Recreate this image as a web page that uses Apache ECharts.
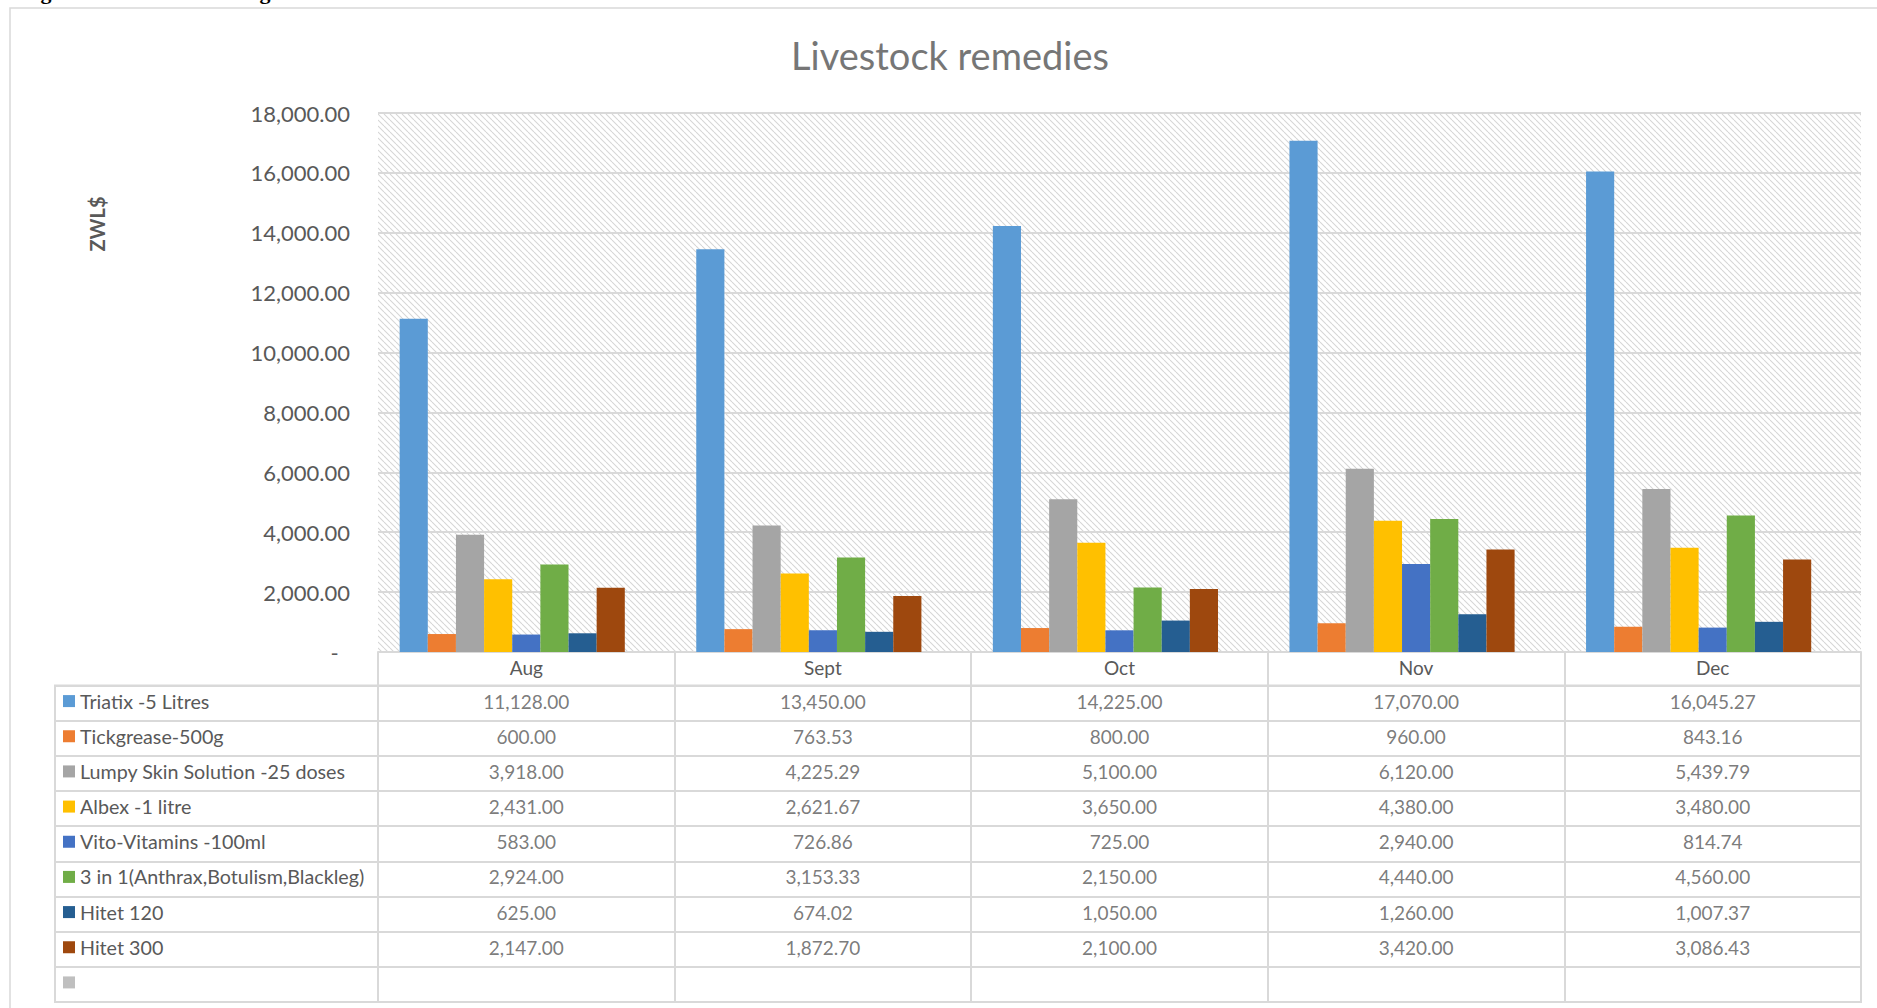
<!DOCTYPE html>
<html><head><meta charset="utf-8">
<script src="https://cdn.jsdelivr.net/npm/echarts/dist/echarts.min.js"></script>
<style>html,body{margin:0;padding:0;background:#fff;overflow:hidden}#c{width:1877px;height:1008px}</style>
</head><body><div id="c"></div>
<script>
// ---- data ----
const months = ['Aug', 'Sept', 'Oct', 'Nov', 'Dec'];
const seriesNames = ['Triatix -5 Litres', 'Tickgrease-500g', 'Lumpy Skin Solution -25 doses', 'Albex -1 litre',
  'Vito-Vitamins -100ml', '3 in 1(Anthrax,Botulism,Blackleg)', 'Hitet 120', 'Hitet 300', ''];
const triatix = [11128.00, 13450.00, 14225.00, 17070.00, 16045.27];
const tickgrease = [600.00, 763.53, 800.00, 960.00, 843.16];
const lumpySkin = [3918.00, 4225.29, 5100.00, 6120.00, 5439.79];
const albex = [2431.00, 2621.67, 3650.00, 4380.00, 3480.00];
const vitoVitamins = [583.00, 726.86, 725.00, 2940.00, 814.74];
const threeInOne = [2924.00, 3153.33, 2150.00, 4440.00, 4560.00];
const hitet120 = [625.00, 674.02, 1050.00, 1260.00, 1007.37];
const hitet300 = [2147.00, 1872.70, 2100.00, 3420.00, 3086.43];
const blankSeries = [null, null, null, null, null];
const yAxisMax = 18000;
const yAxisStep = 2000;

const seriesValues = [triatix, tickgrease, lumpySkin, albex, vitoVitamins, threeInOne, hitet120, hitet300, blankSeries];
const colors = ['#5B9BD5', '#ED7D31', '#A5A5A5', '#FFC000', '#4472C4', '#70AD47', '#255E91', '#9E480E', '#BFBFBF'];

const FONT = 'Lato';
const TXT = '#595959';
const LINE = '#d9d9d9';

function fmt(v) {
  return v.toLocaleString('en-US', {minimumFractionDigits: 2, maximumFractionDigits: 2});
}

// hatch pattern
const tile = document.createElement('canvas');
const S = 6;
tile.width = S; tile.height = S;
const g = tile.getContext('2d');
g.fillStyle = '#ffffff'; g.fillRect(0, 0, S, S);
g.strokeStyle = '#d6d6d6'; g.lineWidth = 1.1;
for (let k = -1; k <= 1; k++) { g.beginPath(); g.moveTo(k * S, 0); g.lineTo(k * S + S, S); g.stroke(); }
const hatch = {image: tile.toDataURL(), repeat: 'repeat'};

const chart = echarts.init(document.getElementById('c'), null, {renderer: 'svg'});

const rich = {};
colors.forEach((c, i) => { rich['s' + i] = {width: 12, height: 12, backgroundColor: c}; });
rich.t = {fontSize: 19.7, fontFamily: FONT, color: TXT, padding: [0, 0, 0, 5]};

const series = [];
seriesValues.forEach((vals, i) => {
  series.push({
    type: 'bar', name: seriesNames[i] || ' ', data: vals, xAxisIndex: 0, yAxisIndex: 0,
    itemStyle: {color: colors[i]}, barGap: '0%', barCategoryGap: '14.6%', silent: true
  });
});
const cellData = [];
seriesValues.forEach((vals, i) => {
  vals.forEach((v, j) => { if (v !== null) cellData.push([j, i, v]); });
});
series.push({
  type: 'scatter', xAxisIndex: 1, yAxisIndex: 1, data: cellData, symbolSize: 1, silent: true,
  itemStyle: {color: 'rgba(0,0,0,0)'},
  label: {show: true, position: 'inside', offset: [0, -2], formatter: p => fmt(p.value[2]), fontSize: 19, fontFamily: FONT, color: TXT}
});

const option = {
  animation: false,
  textStyle: {fontFamily: FONT},
  grid: [
    {left: 378, right: 16, top: 113, height: 539, show: true, backgroundColor: hatch, borderWidth: 0},
    {left: 378, right: 16, top: 685.5, height: 316.5, show: true, backgroundColor: 'transparent', borderColor: LINE, borderWidth: 2},
    {left: 55, width: 323, top: 685.5, height: 316.5, show: true, backgroundColor: 'transparent', borderColor: LINE, borderWidth: 2}
  ],
  xAxis: [
    {gridIndex: 0, type: 'category', data: months,
      axisLine: {lineStyle: {color: LINE, width: 2}},
      axisTick: {show: true, length: 34, lineStyle: {color: LINE, width: 2}},
      axisLabel: {margin: 6, fontSize: 19, color: TXT, fontFamily: FONT}},
    {gridIndex: 1, type: 'category', data: months, axisLabel: {show: false}, axisTick: {show: false}, axisLine: {show: false},
      splitLine: {show: true, interval: 0, lineStyle: {color: LINE, width: 2}}},
    {gridIndex: 2, type: 'category', data: [''], axisLabel: {show: false}, axisTick: {show: false}, axisLine: {show: false}}
  ],
  yAxis: [
    {gridIndex: 0, type: 'value', min: 0, max: yAxisMax, interval: yAxisStep,
      axisLine: {show: false}, axisTick: {show: false},
      splitLine: {lineStyle: {color: LINE, width: 2}},
      axisLabel: {margin: 28, fontSize: 22, color: TXT, fontFamily: FONT,
        formatter: v => v === 0 ? '-  ' : fmt(v)}},
    {gridIndex: 1, type: 'category', data: seriesNames, inverse: true, axisLabel: {show: false}, axisTick: {show: false}, axisLine: {show: false},
      splitLine: {show: true, interval: 0, lineStyle: {color: LINE, width: 2}}},
    {gridIndex: 2, type: 'category', data: seriesNames, inverse: true, axisTick: {show: false}, axisLine: {show: false},
      splitLine: {show: true, interval: 0, lineStyle: {color: LINE, width: 2}},
      axisLabel: {inside: true, margin: 8, interval: 0, rich: rich, padding: [0, 0, 4, 0],
        formatter: (v, idx) => '{s' + idx + '|}' + (v ? '{t|' + v + '}' : '')}}
  ],
  graphic: [
    {type: 'rect', shape: {x: 10, y: 8, width: 1900, height: 1100}, style: {fill: 'none', stroke: LINE, lineWidth: 1.5}, silent: true, z: -10},
    {type: 'text', x: 21, y: -8.4, style: {text: 'Figure 5: Livestock Changes', font: 'bold 22px "Liberation Serif"', fill: '#000', textVerticalAlign: 'middle'}, silent: true},
    {type: 'text', x: 950, y: 55, style: {text: 'Livestock remedies', font: '38px ' + FONT, fill: '#767676', textAlign: 'center', textVerticalAlign: 'middle'}, silent: true},
    {type: 'text', x: 97, y: 224, rotation: Math.PI / 2, style: {text: 'ZWL$', font: 'bold 20px ' + FONT, fill: TXT, textAlign: 'center', textVerticalAlign: 'middle'}, silent: true}
  ],
  series: series
};
chart.setOption(option);
</script>
</body></html>
